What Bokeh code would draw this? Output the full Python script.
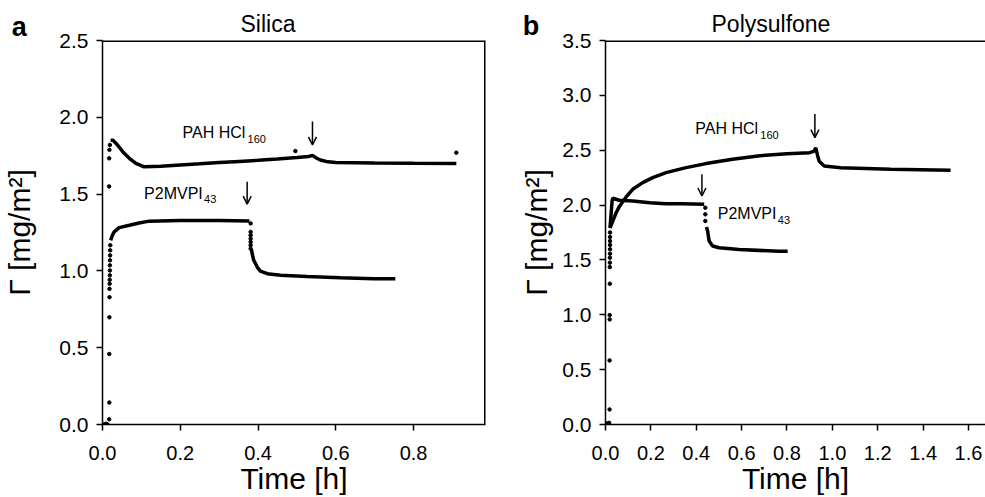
from bokeh.plotting import figure
from bokeh.layouts import row
from bokeh.models import (Label, Arrow, OpenHead, Span, FixedTicker, Range1d,
                          PrintfTickFormatter, Title)
from bokeh.embed import file_html
from bokeh.resources import INLINE

FONT = "Liberation Sans"

# ---------------- Panel a: Silica ----------------
si_x_ticks = [0.0, 0.2, 0.4, 0.6, 0.8]
si_y_ticks = [0.0, 0.5, 1.0, 1.5, 2.0, 2.5]
si_x_max, si_y_max = 0.985, 2.5

# PAH HCl160 on silica
si_pah_dots_t = [0.017, 0.0172, 0.0178, 0.019]
si_pah_dots_g = [1.55, 1.733, 1.788, 1.82]
si_pah_t = [0.021, 0.027, 0.035, 0.045, 0.052, 0.069, 0.086, 0.107, 0.15, 0.2, 0.25, 0.3,
            0.34, 0.4, 0.45, 0.5, 0.53, 0.54, 0.55, 0.56, 0.58, 0.6, 0.7, 0.8, 0.91]
si_pah_g = [1.85, 1.85, 1.83, 1.80, 1.776, 1.733, 1.70, 1.678, 1.682, 1.69, 1.697, 1.705,
            1.711, 1.72, 1.728, 1.738, 1.745, 1.752, 1.735, 1.722, 1.71, 1.706, 1.703, 1.701, 1.70]
si_stray_t = [0.496, 0.91]
si_stray_g = [1.78, 1.77]

# P2MVPI43 on silica
si_p2_dots_t = [0.004, 0.009, 0.013, 0.0172, 0.0175, 0.0175, 0.0177, 0.018, 0.018, 0.0183,
                0.0185, 0.0188, 0.019, 0.019, 0.0193, 0.0195, 0.0198, 0.02]
si_p2_dots_g = [0.0, 0.005, 0.0, 0.034, 0.143, 0.459, 0.698, 0.829, 0.883, 0.916,
                0.942, 0.971, 1.003, 1.036, 1.069, 1.101, 1.134, 1.167]
si_p2_t = [0.021, 0.025, 0.03, 0.043, 0.069, 0.094, 0.12, 0.2, 0.3, 0.378]
si_p2_g = [1.199, 1.23, 1.254, 1.282, 1.297, 1.312, 1.324, 1.328, 1.328, 1.325]
si_p2_drop_t = [0.381, 0.381, 0.381, 0.381, 0.381, 0.381, 0.381]
si_p2_drop_g = [1.309, 1.254, 1.232, 1.21, 1.188, 1.167, 1.145]
si_p2_rinse_t = [0.383, 0.385, 0.389, 0.398, 0.406, 0.424, 0.458, 0.526, 0.612, 0.697, 0.753]
si_p2_rinse_g = [1.14, 1.112, 1.069, 1.025, 0.999, 0.982, 0.971, 0.964, 0.956, 0.949, 0.949]

# rinse arrows (t, start, tip)
si_arrow_t = [0.54, 0.372]
si_arrow_top = [1.973, 1.58]
si_arrow_tip = [1.82, 1.435]

# ---------------- Panel b: Polysulfone ----------------
ps_x_ticks = [0.0, 0.2, 0.4, 0.6, 0.8, 1.0, 1.2, 1.4, 1.6]
ps_y_ticks = [0.0, 0.5, 1.0, 1.5, 2.0, 2.5, 3.0, 3.5]
ps_x_max, ps_y_max = 1.675, 3.5

ps_rise_t = [0.003, 0.008, 0.012, 0.016, 0.018, 0.018, 0.0185, 0.0185, 0.019, 0.019,
             0.0193, 0.0195, 0.0198, 0.02, 0.02, 0.02, 0.02, 0.02]
ps_rise_g = [0.0, 0.01, 0.005, 0.015, 0.137, 0.584, 0.958, 0.997, 1.283, 1.435,
             1.475, 1.52, 1.557, 1.597, 1.636, 1.672, 1.709, 1.75]

ps_pah_t = [0.02, 0.032, 0.047, 0.062, 0.091, 0.12, 0.164, 0.208, 0.267, 0.355, 0.443, 0.56,
            0.68, 0.8, 0.9, 0.918, 0.927, 0.935, 0.942, 0.964, 1.037, 1.257, 1.521]
ps_pah_g = [1.79, 1.855, 1.93, 1.99, 2.074, 2.144, 2.205, 2.25, 2.296, 2.341, 2.378, 2.418,
            2.45, 2.468, 2.478, 2.49, 2.52, 2.45, 2.40, 2.357, 2.341, 2.327, 2.318]

ps_p2_t = [0.02, 0.029, 0.032, 0.06, 0.12, 0.195, 0.267, 0.34, 0.435]
ps_p2_g = [1.794, 2.037, 2.062, 2.044, 2.037, 2.022, 2.013, 2.013, 2.007]
ps_p2_drop_t = [0.44, 0.44, 0.44]
ps_p2_drop_g = [1.976, 1.916, 1.855]
ps_p2_rinse_t = [0.445, 0.45, 0.457, 0.472, 0.501, 0.589, 0.765, 0.803]
ps_p2_rinse_g = [1.80, 1.764, 1.672, 1.627, 1.611, 1.596, 1.578, 1.58]

ps_arrow_t = [0.923, 0.425]
ps_arrow_top = [2.829, 2.281]
ps_arrow_tip = [2.615, 2.083]

LW = 3.5
DOT = 3.5
FIG_H = 497


def make_fig(width, xmax, ymax, xticks, yticks, border_left, border_right, ylabel,
             title, title_offset, ylabel_standoff):
    p = figure(width=width, height=FIG_H, output_backend="svg", toolbar_location=None,
               title_location=None,
               x_range=Range1d(0, xmax), y_range=Range1d(0, ymax),
               min_border_left=border_left, min_border_right=border_right,
               min_border_top=40, min_border_bottom=73)
    p.grid.visible = False
    p.outline_line_color = None
    p.background_fill_color = "white"
    p.border_fill_color = "white"
    for ax, ticks in ((p.xaxis, xticks), (p.yaxis, yticks)):
        ax.ticker = FixedTicker(ticks=ticks)
        ax.formatter = PrintfTickFormatter(format="%.1f")
        ax.axis_line_width = 1.5
        ax.axis_line_color = "black"
        ax.major_tick_line_width = 1.5
        ax.major_tick_line_color = "black"
        ax.major_tick_out = 6
        ax.major_tick_in = 0
        ax.minor_tick_out = 0
        ax.minor_tick_in = 0
        ax.major_label_text_font = FONT
        ax.major_label_text_color = "black"
        ax.axis_label_text_font = FONT
        ax.axis_label_text_font_size = "30px"
        ax.axis_label_text_font_style = "normal"
        ax.axis_label_text_color = "black"
    p.xaxis.major_label_text_font_size = "20px"
    p.yaxis.major_label_text_font_size = "21px"
    p.xaxis.major_label_standoff = 15
    p.yaxis.major_label_standoff = 8
    p.xaxis.axis_label = "Time [h]"
    p.xaxis.axis_label_standoff = -1
    p.yaxis.axis_label = ylabel
    p.yaxis.axis_label_standoff = ylabel_standoff
    # top frame line (half of a 3px line survives the frame clip)
    p.add_layout(Span(location=ymax, dimension="width", line_color="black", line_width=3))
    p.add_layout(Title(text=title, align="left", offset=title_offset, standoff=8,
                       text_font=FONT, text_font_size="23px", text_font_style="normal",
                       text_color="black"), "above")
    return p


def label(x, y, s, size="16px", bold=False, align="left", xo=0, yo=0):
    return Label(x=x, y=y, text=s, text_font=FONT, text_font_size=size,
                 text_font_style="bold" if bold else "normal",
                 text_align=align, text_baseline="middle", text_color="black",
                 x_offset=xo, y_offset=yo)


def series_label(p, x, y, main, sub, main_w):
    p.add_layout(label(x, y, main))
    p.add_layout(label(x, y, sub, size="11px", xo=main_w + 1, yo=-6))


def arrows(p, ts, tops, tips):
    for t, a, b in zip(ts, tops, tips):
        p.add_layout(Arrow(x_start=t, y_start=a, x_end=t, y_end=b, line_width=1.5,
                           line_color="black",
                           end=OpenHead(size=8, line_width=1.5, line_color="black")))


# ---- panel a ----
pa = make_fig(501, si_x_max, si_y_max, si_x_ticks, si_y_ticks, 101, 16, "Γ [mg/m²]",
              "Silica", 138, 20)
pa.add_layout(Span(location=si_x_max, dimension="height", line_color="black", line_width=3))
# panel letter, placed in a side panel so it is not clipped by the frame
pa.add_layout(label(-0.2334, 2.591, "a", size="27px", bold=True), "right")
pa.line(si_pah_t, si_pah_g, line_width=LW, color="black")
pa.scatter(si_pah_dots_t, si_pah_dots_g, size=DOT, color="black")
pa.scatter(si_stray_t, si_stray_g, size=DOT, color="black")
pa.scatter(si_p2_dots_t, si_p2_dots_g, size=DOT, color="black")
pa.line(si_p2_t, si_p2_g, line_width=LW, color="black")
pa.scatter(si_p2_drop_t, si_p2_drop_g, size=DOT, color="black")
pa.line(si_p2_rinse_t, si_p2_rinse_g, line_width=LW, color="black")
arrows(pa, si_arrow_t, si_arrow_top, si_arrow_tip)
series_label(pa, 0.206, 1.90, "PAH HCl", "160", 64)
series_label(pa, 0.107, 1.507, "P2MVPI", "43", 59)

# ---- panel b ----
pb = make_fig(484, ps_x_max, ps_y_max, ps_x_ticks, ps_y_ticks, 103, 0, "Γ [mg/m²]",
              "Polysulfone", 106, 6)
pb.add_layout(label(-0.3648, 3.628, "b", size="27px", bold=True), "left")
pb.scatter(ps_rise_t, ps_rise_g, size=DOT, color="black")
pb.line(ps_pah_t, ps_pah_g, line_width=LW, color="black")
pb.line(ps_p2_t, ps_p2_g, line_width=LW, color="black")
pb.scatter(ps_p2_drop_t, ps_p2_drop_g, size=DOT, color="black")
pb.line(ps_p2_rinse_t, ps_p2_rinse_g, line_width=LW, color="black")
arrows(pb, ps_arrow_t, ps_arrow_top, ps_arrow_tip)
series_label(pb, 0.396, 2.694, "PAH HCl", "160", 64)
series_label(pb, 0.495, 1.919, "P2MVPI", "43", 59)

layout = row(pa, pb)
open("out.html", "w").write(file_html(layout, INLINE))
